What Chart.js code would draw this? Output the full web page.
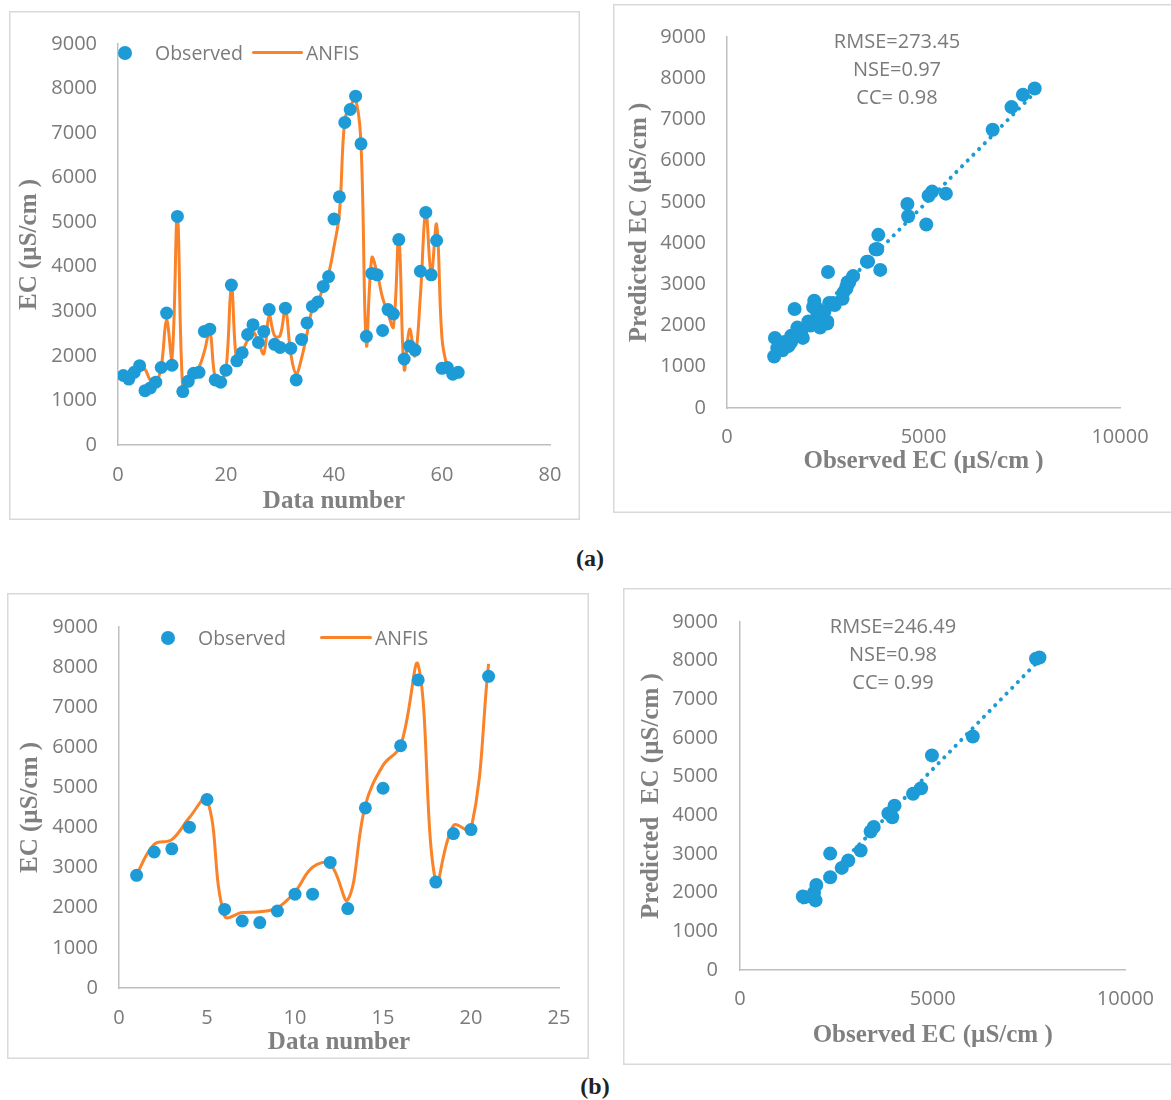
<!DOCTYPE html>
<html lang="en">
<head>
<meta charset="UTF-8">
<title>EC observed vs ANFIS</title>
<style>
  body { margin: 0; width: 1171px; height: 1100px; position: relative; overflow: hidden; background: #fff; font-family: 'Open Sans', sans-serif; }
  .box { position: absolute; box-shadow: inset 0 0 0 1.5px #d9d9d9; }
  .box canvas { position: absolute; left: 0; top: 0; }
  .lbl { position: absolute; color: #7a7a7a; font-size: 19.5px; line-height: 28px; height: 28px; white-space: pre; }
  .dot { position: absolute; width: 14px; height: 14px; border-radius: 50%; background: #1d9bd7; }
  .seg { position: absolute; height: 3px; background: #fa8228; border-radius: 1.5px; }
  .stats { position: absolute; width: 240px; text-align: center; color: #7a7a7a; font-size: 20px; line-height: 28px; }
  .panel { position: absolute; width: 60px; text-align: center; font-family: 'Liberation Serif', serif; font-weight: bold; font-size: 24px; line-height: 30px; color: #222; }
</style>
<script src="https://cdn.jsdelivr.net/npm/chart.js@4.4.1/dist/chart.umd.min.js"></script>
</head>
<body>

<div class="box" style="left:9px;top:11px;width:571px;height:509px"><canvas id="lineA" width="571" height="509"></canvas></div>
<div class="box" style="left:613px;top:4px;width:580px;height:509px"><canvas id="scatA" width="558" height="509"></canvas></div>
<div class="box" style="left:7px;top:593px;width:582px;height:466px"><canvas id="lineB" width="582" height="466"></canvas></div>
<div class="box" style="left:623px;top:588px;width:580px;height:477px"><canvas id="scatB" width="548" height="477"></canvas></div>

<!-- legends -->
<div class="dot" style="left:118px;top:46px"></div>
<div class="lbl" style="left:155px;top:39px">Observed</div>
<div class="seg" style="left:252px;top:51px;width:51px"></div>
<div class="lbl" style="left:306px;top:39px">ANFIS</div>

<div class="dot" style="left:161px;top:631px"></div>
<div class="lbl" style="left:198px;top:624px">Observed</div>
<div class="seg" style="left:320px;top:636px;width:52px"></div>
<div class="lbl" style="left:375px;top:624px">ANFIS</div>

<!-- fit statistics -->
<div class="stats" style="left:777px;top:27px">RMSE=273.45<br>NSE=0.97<br>CC= 0.98</div>
<div class="stats" style="left:773px;top:612px">RMSE=246.49<br>NSE=0.98<br>CC= 0.99</div>

<div class="panel" style="left:560px;top:543px">(a)</div>
<div class="panel" style="left:565px;top:1071px">(b)</div>

<script>
    // (a) training set, 63 samples
    const obsA = [1560, 1480, 1630, 1780, 1220, 1280, 1410, 1740, 2960, 1790,
                  5130, 1200, 1430, 1610, 1630, 2550, 2600, 1460, 1410, 1680,
                  3590, 1890, 2070, 2480, 2700, 2300, 2550, 3040, 2260, 2190,
                  3070, 2170, 1460, 2370, 2740, 3110, 3210, 3560, 3780, 5070,
                  5570, 7240, 7530, 7830, 6760, 2440, 3850, 3820, 2570, 3040,
                  2940, 4610, 1930, 2220, 2130, 3900, 5220, 3820, 4590, 1720,
                  1740, 1590, 1630];
    const anfisA = [1500, 1500, 1600, 1750, 1700, 1450, 1400, 1750, 2800, 1950,
                    5150, 1250, 1450, 1650, 1750, 2100, 2550, 1500, 1450, 1700,
                    3550, 1850, 2100, 2350, 2550, 2300, 2050, 2900, 2450, 2450,
                    3050, 2050, 1600, 1950, 2500, 3050, 3200, 3550, 3850, 4450,
                    5200, 7300, 7600, 7750, 6750, 2250, 4200, 3850, 3300, 2950,
                    2650, 4650, 1700, 2600, 2000, 3350, 5250, 3850, 4950, 2400,
                    1750, 1550, 1650];

    // (b) testing set, 21 samples
    const obsB = [2810, 3390, 3470, 4010, 4700, 1960, 1670, 1630, 1920, 2340,
                  2340, 3130, 1980, 4490, 4980, 6040, 7680, 2640, 3850, 3950, 7770];
    const anfisB = [2830, 3580, 3700, 4250, 4700, 1800, 1880, 1900, 2000, 2400,
                    3010, 3090, 2200, 4560, 5550, 6040, 8050, 2640, 4050, 3950, 8080];

    // linear trendlines (observed -> predicted)
    const trendObsA = [1200, 7830];
    const trendPredA = [1250, 7650];
    const trendObsB = [1630, 7770];
    const trendPredB = [1750, 8020];

    const BLUE = '#1d9bd7';
    const ORANGE = '#fa8228';
    const tickFont = { family: "'Open Sans', sans-serif", size: 20 };
    const titleFont = { family: "'Liberation Serif', serif", size: 25, weight: 'bold', lineHeight: 1 };

    const pairs = (xs, ys) => xs.map((x, i) => ({ x: x, y: ys[i] }));
    const index = arr => arr.map((_, i) => i + 1);

    function axis(max, step, pad, fixed, title, titleOffset) {
        const horizontal = title.indexOf('Data') === 0 || title.indexOf('Observed') === 0;
        return {
            type: 'linear', min: 0, max: max,
            grid: { display: false, drawTicks: false },
            border: { display: true, color: '#bfbfbf', width: 1.5 },
            ticks: { stepSize: step, padding: pad, color: '#7a7a7a', font: tickFont,
                     maxRotation: 0, autoSkip: false, callback: v => String(v) },
            title: { display: true, text: title, color: '#808080', font: titleFont,
                     padding: horizontal ? { top: 0, bottom: titleOffset - 12.5 } : { top: titleOffset - 12.5, bottom: 0 } },
            afterFit: s => { if (s.isHorizontal()) s.height = fixed; else s.width = fixed; }
        };
    }

    function baseOptions(padTop, padRight, xScale, yScale) {
        return {
            responsive: false,
            animation: false,
            layout: { padding: { left: 0, top: padTop, right: padRight, bottom: 0 } },
            plugins: { legend: { display: false }, tooltip: { enabled: false } },
            scales: { x: xScale, y: yScale }
        };
    }

    function seriesChart(id, obs, anfis, xMax, xStep, L) {
        const n = index(obs);
        new Chart(document.getElementById(id), {
            type: 'scatter',
            data: {
                datasets: [
                    { label: 'Observed', data: pairs(n, obs), backgroundColor: BLUE,
                      pointRadius: 6.5, pointBorderWidth: 0, showLine: false },
                    { label: 'ANFIS', data: pairs(n, anfis), showLine: true, borderColor: ORANGE,
                      borderWidth: 3, pointRadius: 0, tension: 0.4 }
                ]
            },
            options: baseOptions(L.top, L.right,
                axis(xMax, xStep, L.xPad, L.xH, 'Data number', L.xTitle),
                axis(9000, 1000, L.yPad, L.yW, 'EC (µS/cm )', L.yTitle))
        });
    }

    function fitChart(id, obs, pred, tObs, tPred, yTitle, L) {
        new Chart(document.getElementById(id), {
            type: 'scatter',
            data: {
                datasets: [
                    { label: 'Predicted', data: pairs(obs, pred), backgroundColor: BLUE,
                      pointRadius: 7, pointBorderWidth: 0 },
                    { label: 'Linear', data: pairs(tObs, tPred), showLine: true, borderColor: BLUE,
                      borderWidth: 4, borderDash: [0.1, 8], borderCapStyle: 'round', pointRadius: 0 }
                ]
            },
            options: baseOptions(L.top, L.right,
                axis(10000, 5000, L.xPad, L.xH, 'Observed EC (µS/cm )', L.xTitle),
                axis(9000, 1000, L.yPad, L.yW, yTitle, L.yTitle))
        });
    }

    seriesChart('lineA', obsA, anfisA, 80, 20,
        { top: 29, right: 30, yW: 109, xH: 75, yPad: 21, xPad: 18, yTitle: 21, xTitle: 18 });
    fitChart('scatA', obsA, anfisA, trendObsA, trendPredA, 'Predicted EC (µS/cm )',
        { top: 33, right: 51, yW: 114, xH: 105, yPad: 21, xPad: 17, yTitle: 27, xTitle: 51 });
    seriesChart('lineB', obsB, anfisB, 25, 5,
        { top: 34, right: 30, yW: 112, xH: 71, yPad: 21, xPad: 18, yTitle: 24, xTitle: 16 });
    fitChart('scatB', obsB, anfisB, trendObsB, trendPredB, 'Predicted  EC (µS/cm )',
        { top: 30, right: 40, yW: 117, xH: 95, yPad: 22, xPad: 17, yTitle: 29, xTitle: 29 });
</script>

</body>
</html>
